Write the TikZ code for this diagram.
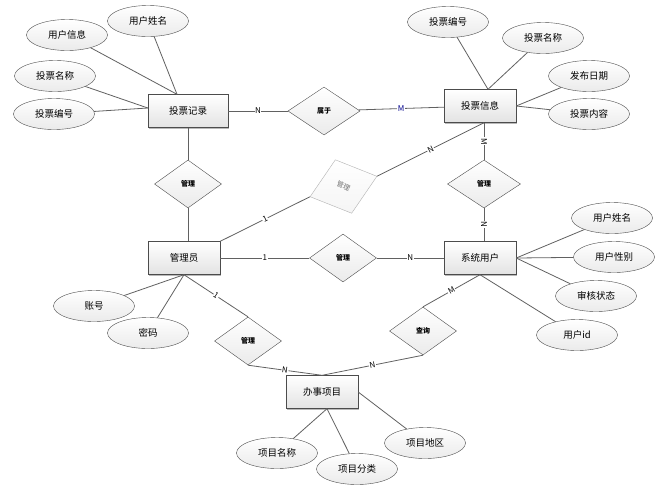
\documentclass[tikz,border=0pt]{standalone}
\usepackage{fontspec}
\newfontfamily\cjk{Noto Sans CJK SC}
\usetikzlibrary{shapes.geometric,shadows}
\begin{document}
\begin{tikzpicture}[x=1pt,y=-1pt,
  entity/.style={draw=black!70,rectangle,minimum width=72pt,minimum height=33pt,inner sep=1pt,top color=white,bottom color=gray!22,drop shadow={shadow xshift=1.3pt,shadow yshift=-1.3pt,opacity=0.55},font=\cjk\fontsize{9.5}{11}\selectfont},
  attr/.style={draw=black!70,ellipse,minimum width=81pt,minimum height=31pt,inner sep=0pt,top color=white,bottom color=gray!16,font=\cjk\fontsize{9.5}{11}\selectfont},
  rel/.style={draw=black!70,diamond,minimum width=67pt,minimum height=48pt,inner sep=0pt,top color=white,bottom color=gray!16,font=\cjk\bfseries\fontsize{7}{8}\selectfont},
  conn/.style={draw=black!62,line width=0.8pt},
  card/.style={fill=white,inner sep=0.6pt,font=\cjk\fontsize{8}{9}\selectfont}]
\useasboundingbox[fill=white] (0,0) rectangle (668,496);
\node[entity,minimum width=80pt] (rec) at (188,111) {投票记录};
\node[entity] (info) at (480,106) {投票信息};
\node[entity] (adm) at (184,258) {管理员};
\node[entity] (usr) at (480,258) {系统用户};
\node[entity] (item) at (322,392) {办事项目};
\node[attr] (rname) at (148,21) {用户姓名};
\node[attr] (rinfo) at (67,35) {用户信息};
\node[attr] (rvname) at (55,76) {投票名称};
\node[attr] (rvno) at (54,114) {投票编号};
\node[attr] (ino) at (448,22) {投票编号};
\node[attr] (iname) at (543,38) {投票名称};
\node[attr] (idate) at (589,76) {发布日期};
\node[attr] (icont) at (589,114) {投票内容};
\node[attr] (uname) at (612,218) {用户姓名};
\node[attr] (usex) at (614,257) {用户性别};
\node[attr] (ustat) at (596,296) {审核状态};
\node[attr] (uid) at (577,335) {用户id};
\node[attr] (acc) at (94,306) {账号};
\node[attr] (pwd) at (148,333) {密码};
\node[attr] (pname) at (277,453) {项目名称};
\node[attr] (pcat) at (357,469) {项目分类};
\node[attr] (parea) at (425,443) {项目地区};
\node[rel,minimum width=72pt] (belong) at (324,111) {属于};
\node[rel] (mgrA) at (188,184) {管理};
\node[rel,minimum width=73pt] (mgrB) at (484,184) {管理};
\node[rel] (mgrC) at (343,258) {管理};
\node[rel] (mgrD) at (248,341) {管理};
\node[rel] (query) at (423,331) {查询};
\node[rel,draw=black!30,bottom color=gray!8,text=black!55,font=\cjk\fontsize{7}{8}\selectfont,minimum width=70pt,minimum height=56pt,rotate=17] (mgrE) at (343.5,186.5) {\rotatebox{-42}{管理}};
\draw[conn] (rec) -- node[card]{N} (belong);
\draw[conn] (belong) -- node[card,text=blue!55!black]{M} (info);
\draw[conn] (rec.south -| mgrA) -- (mgrA);
\draw[conn] (mgrA) -- (adm.north -| mgrA);
\draw[conn] (info.south -| mgrB) -- node[card,sloped]{M} (mgrB);
\draw[conn] (mgrB) -- node[card,sloped]{N} (usr.north -| mgrB);
\draw[conn] (adm) -- node[card]{1} (mgrC);
\draw[conn] (mgrC) -- node[card]{N} (usr);
\draw[conn] (info.south -| mgrB) -- node[card,sloped]{N} (mgrE.east);
\draw[conn] (mgrE.west) -- node[card,sloped]{1} (adm.north east);
\draw[conn] (adm.south) -- node[card,sloped]{1} (mgrD.north);
\draw[conn] (mgrD.south) -- node[card,sloped]{N} (item.north);
\draw[conn] (usr.south) -- node[card,sloped]{M} (query.north);
\draw[conn] (query.south) -- node[card,sloped]{N} (item.north);
\draw[conn] ([xshift=-11pt]rec.north) -- (rname);
\draw[conn] ([xshift=-11pt]rec.north) -- (rinfo);
\draw[conn] ([yshift=3pt]rec.west) -- (rvname);
\draw[conn] ([yshift=3pt]rec.west) -- (rvno);
\draw[conn] ([xshift=8pt]info.north) -- (ino);
\draw[conn] ([xshift=8pt]info.north) -- (iname);
\draw[conn] (info.east) -- (idate);
\draw[conn] (info.east) -- (icont);
\draw[conn] (usr.east) -- (uname);
\draw[conn] (usr.east) -- (usex);
\draw[conn] (usr.east) -- (ustat);
\draw[conn] (usr.south) -- (uid);
\draw[conn] (adm.south) -- (acc);
\draw[conn] (adm.south) -- (pwd);
\draw[conn] ([xshift=5pt]item.south) -- (pname);
\draw[conn] ([xshift=5pt]item.south) -- (pcat);
\draw[conn] (item.east) -- (parea);
\end{tikzpicture}
\end{document}
